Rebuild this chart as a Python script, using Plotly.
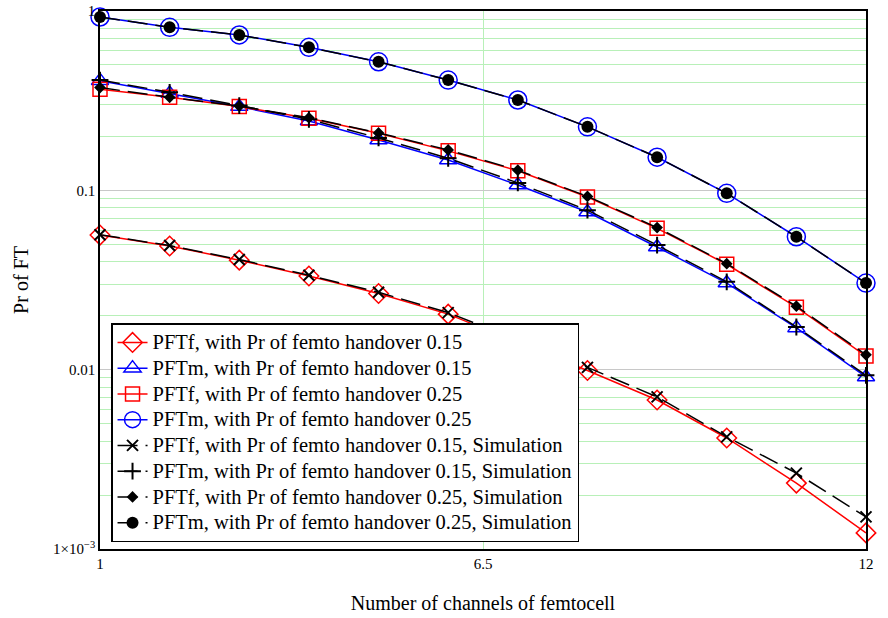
import plotly.graph_objects as go

channels = [1, 2, 3, 4, 5, 6, 7, 8, 9, 10, 11, 12]

pftf_015 = [0.0563, 0.0489, 0.0408, 0.0333, 0.0266, 0.0204, 0.0142, 0.0099, 0.00677, 0.00416, 0.00233, 0.00123]
pftm_015 = [0.409, 0.347, 0.293, 0.2435, 0.191, 0.1476, 0.107, 0.0757, 0.0483, 0.0304, 0.0171, 0.0091]
pftf_025 = [0.366, 0.330, 0.293, 0.252, 0.208, 0.166, 0.1286, 0.0918, 0.0614, 0.0387, 0.0223, 0.0119]
pftm_025 = [0.926, 0.811, 0.735, 0.627, 0.521, 0.412, 0.319, 0.226, 0.153, 0.0962, 0.0551, 0.0304]

sim_pftf_015 = [0.0565, 0.0492, 0.0411, 0.0336, 0.0270, 0.0208, 0.0146, 0.0103, 0.00705, 0.00422, 0.00265, 0.00151]
sim_pftm_015 = [0.412, 0.352, 0.297, 0.249, 0.196, 0.151, 0.110, 0.0775, 0.0495, 0.0309, 0.0173, 0.0093]
sim_pftf_025 = [0.374, 0.330, 0.295, 0.254, 0.209, 0.168, 0.1295, 0.0925, 0.0620, 0.0390, 0.0226, 0.0121]
sim_pftm_025 = [0.926, 0.811, 0.735, 0.627, 0.521, 0.412, 0.319, 0.226, 0.153, 0.0962, 0.0551, 0.0304]

y_tickvals = [0.001, 0.01, 0.1, 1]
y_ticktext = ["1×10<sup>−3</sup>", "0.01", "0.1", "1"]
x_tickvals = [1, 6.5, 12]
x_ticktext = ["1", "6.5", "12"]
minor_vals = [m * d for d in (0.001, 0.01, 0.1) for m in range(2, 10)]

FONT = "Liberation Serif, Times New Roman, serif"


def legend_name(s):
    return '<span style="font-size:20.5px">' + s + "</span>"


fig = go.Figure()

analytic = [
    ("PFTf, with Pr of femto handover 0.15", pftf_015, "red", "diamond-open", 15),
    ("PFTm, with Pr of femto handover 0.15", pftm_015, "blue", "triangle-up-open", 15),
    ("PFTf, with Pr of femto handover 0.25", pftf_025, "red", "square-open", 14),
    ("PFTm, with Pr of femto handover 0.25", pftm_025, "blue", "circle-open", 18),
]
for name, ys, col, sym, sz in analytic:
    fig.add_trace(go.Scatter(
        x=channels, y=ys, name=legend_name(name), mode="lines+markers",
        line=dict(color=col, width=1.5),
        marker=dict(symbol=sym, size=sz, color=col, line=dict(color=col, width=1.5)),
        cliponaxis=False,
    ))

sims = [
    ("PFTf, with Pr of femto handover 0.15, Simulation", sim_pftf_015, "x-thin-open", 11, 2),
    ("PFTm, with Pr of femto handover 0.15, Simulation", sim_pftm_015, "cross-thin-open", 12, 2),
    ("PFTf, with Pr of femto handover 0.25, Simulation", sim_pftf_025, "diamond", 9, 0),
    ("PFTm, with Pr of femto handover 0.25, Simulation", sim_pftm_025, "circle", 12, 0),
]
for name, ys, sym, sz, lw in sims:
    fig.add_trace(go.Scatter(
        x=channels, y=ys, name=legend_name(name), mode="lines+markers",
        line=dict(color="black", width=1.5, dash="20px,8px"),
        marker=dict(symbol=sym, size=sz, color="black", line=dict(color="black", width=lw)),
        cliponaxis=False,
    ))

fig.update_layout(
    width=888, height=618,
    margin=dict(l=100, r=22, t=11, b=69),
    paper_bgcolor="white", plot_bgcolor="white",
    font=dict(family=FONT, size=15, color="black"),
    showlegend=True,
    legend=dict(
        x=0.0144, y=0.420, xanchor="left", yanchor="top",
        bgcolor="white", bordercolor="black", borderwidth=1.5,
        font=dict(family=FONT, size=17.5, color="black"),
        tracegroupgap=0, itemwidth=30,
    ),
    xaxis=dict(
        range=[1, 12], tickvals=x_tickvals, ticktext=x_ticktext,
        showgrid=True, gridcolor="#b8f0b8", gridwidth=1,
        showline=True, mirror=True, linecolor="black", linewidth=1.5,
        ticks="", zeroline=False, automargin=False,
        title=dict(text="Number of channels of femtocell", font=dict(family=FONT, size=20), standoff=25),
        tickfont=dict(family=FONT, size=15),
    ),
    yaxis=dict(
        type="log", range=[-3, 0], tickvals=y_tickvals, ticktext=y_ticktext,
        showgrid=True, gridcolor="#c8c8c8", gridwidth=1,
        minor=dict(tickvals=minor_vals, showgrid=True, gridcolor="#b8f0b8", gridwidth=1, ticks=""),
        showline=True, mirror=True, linecolor="black", linewidth=1.5,
        ticks="", zeroline=False, automargin=False,
        title=dict(text="Pr of FT", font=dict(family=FONT, size=20), standoff=19),
        tickfont=dict(family=FONT, size=15),
    ),
)

fig.write_html("out.html", config={"displayModeBar": False},
               post_script="document.body.style.margin='0';")
